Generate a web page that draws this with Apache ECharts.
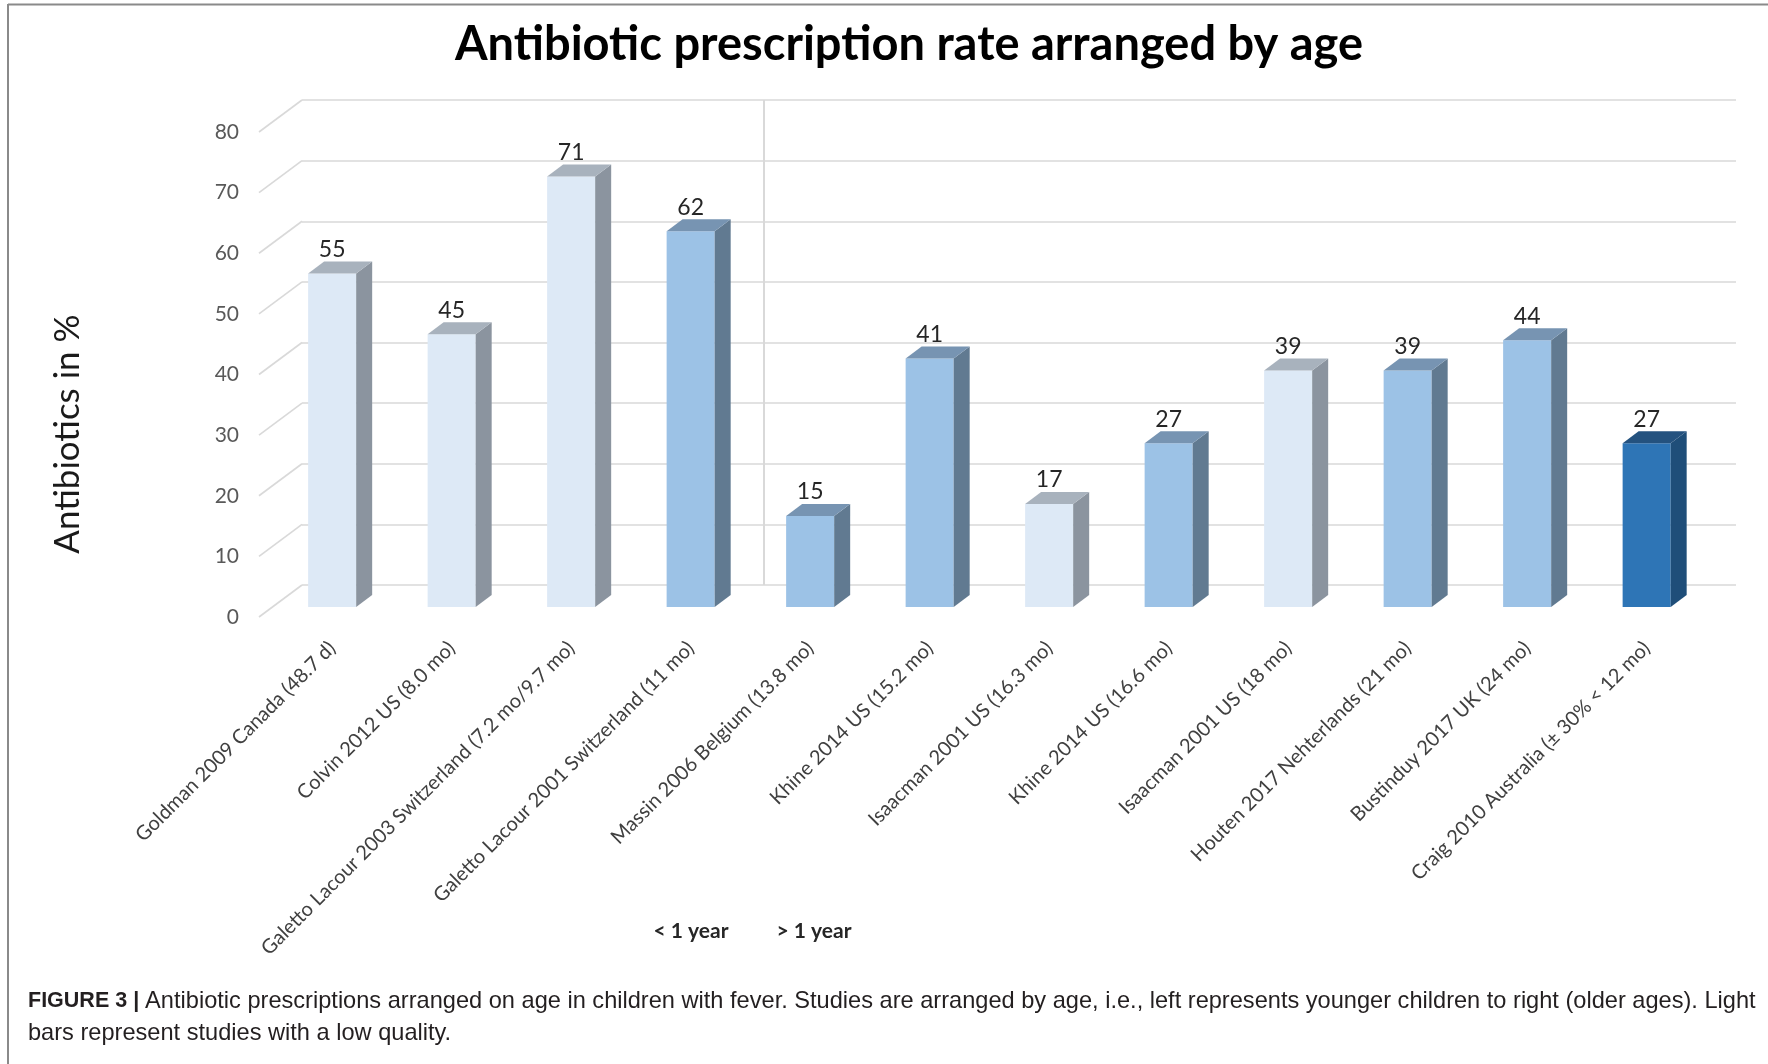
<!DOCTYPE html>
<html>
<head>
<meta charset="utf-8">
<script src="https://cdn.jsdelivr.net/npm/echarts@6/dist/echarts.min.js"></script>
<style>
html,body{margin:0;padding:0;background:#fff;}
#chart{width:1768px;height:1064px;}
</style>
</head>
<body>
<div id="chart"></div>
<script>
// ---- data ----
const categories = [
  'Goldman 2009 Canada (48.7 d)',
  'Colvin 2012 US (8.0 mo)',
  'Galetto Lacour 2003 Switzerland (7.2 mo/9.7 mo)',
  'Galetto Lacour 2001 Switzerland (11 mo)',
  'Massin 2006 Belgium (13.8 mo)',
  'Khine 2014 US (15.2 mo)',
  'Isaacman 2001 US (16.3 mo)',
  'Khine 2014 US (16.6 mo)',
  'Isaacman 2001 US (18 mo)',
  'Houten 2017 Nehterlands (21 mo)',
  'Bustinduy 2017 UK (24 mo)',
  'Craig 2010 Australia (\u00b1 30% < 12 mo)'
];
const values = [55, 45, 71, 62, 15, 41, 17, 27, 39, 39, 44, 27];
const shades = ['light','light','light','medium','medium','medium','light','medium','light','medium','medium','dark'];
const yTicks = [0, 10, 20, 30, 40, 50, 60, 70, 80];
const groupLabels = ['< 1 year', '> 1 year'];
const titleText = 'Antibiotic prescription rate arranged by age';
const yName = 'Antibiotics in %';
const captionBold = 'FIGURE 3 | ';
const captionLine1 = 'Antibiotic prescriptions arranged on age in children with fever. Studies are arranged by age, i.e., left represents younger children to right (older ages). Light';
const captionLine2 = 'bars represent studies with a low quality.';

// ---- styles ----
const palette = {
  light:  {front:'#DDE9F6', side:'#8B949F', top:'#A8B2BD'},
  medium: {front:'#9CC2E6', side:'#617A91', top:'#7794B2'},
  dark:   {front:'#2E75B6', side:'#1F4E79', top:'#24527F'}
};
const FONT = 'Lato, "Open Sans", sans-serif';
const CAP_FONT = '"Liberation Sans", Arial, sans-serif';
const GRID_W = 1434, GRID_H = 485;
const BAR_DX = 16, BAR_DY = -12;     // bar depth
const WALL_DX = 43, WALL_DY = -32;   // wall depth from label plane
const GRIDLINE = '#D9D9D9';

const chart = echarts.init(document.getElementById('chart'), null, {renderer:'canvas'});

const option = {
  backgroundColor: '#ffffff',
  animation: false,
  grid: [
    {left: 302, top: 100, width: GRID_W, height: GRID_H},   // back wall
    {left: 272.4, top: 122, width: GRID_W, height: GRID_H}, // bar plane
    {left: 259, top: 132, width: GRID_W, height: GRID_H}    // label plane
  ],
  xAxis: [
    {gridIndex: 0, type: 'value', min: -0.5, max: 11.5, show: false},
    {gridIndex: 1, type: 'category', data: categories,
      axisLine: {show: false}, axisTick: {show: false}, splitLine: {show: false},
      axisLabel: {interval: 0, rotate: 45, margin: 38, fontSize: 20, color: '#404040', fontFamily: FONT}},
    {gridIndex: 2, type: 'value', min: 0, max: 1, show: false}
  ],
  yAxis: [
    {gridIndex: 0, type: 'value', min: 0, max: 80, interval: 10,
      axisLine: {show: false}, axisTick: {show: false}, axisLabel: {show: false},
      splitLine: {show: true, lineStyle: {color: GRIDLINE, width: 1.6}}},
    {gridIndex: 1, type: 'value', min: 0, max: 80, interval: 10, show: false},
    {gridIndex: 2, type: 'value', min: 0, max: 80, interval: 10,
      axisLine: {show: false}, axisTick: {show: false}, splitLine: {show: false},
      axisLabel: {margin: 20, fontSize: 21, color: '#595959', fontFamily: FONT,
        formatter: function (v) { return yTicks.indexOf(v) >= 0 ? String(v) : ''; }}}
  ],
  series: [
    // divider between age groups on back wall
    {
      type: 'custom', xAxisIndex: 0, yAxisIndex: 0, silent: true,
      data: [[3.5]],
      renderItem: function (params, api) {
        const a = api.coord([api.value(0), 0]);
        const b = api.coord([api.value(0), 80]);
        return {type: 'line', shape: {x1: a[0] - 16, y1: a[1], x2: b[0] - 16, y2: b[1]},
          style: {stroke: GRIDLINE, lineWidth: 2}};
      }
    },
    // diagonal side lines
    {
      type: 'custom', xAxisIndex: 2, yAxisIndex: 2, silent: true,
      data: yTicks.map(function (t) { return [0, t]; }),
      renderItem: function (params, api) {
        const p = api.coord([0, api.value(1)]);
        return {type: 'line', shape: {x1: p[0], y1: p[1], x2: p[0] + WALL_DX, y2: p[1] + WALL_DY},
          style: {stroke: GRIDLINE, lineWidth: 1.6}};
      }
    },
    // 3D bars
    {
      type: 'custom', xAxisIndex: 1, yAxisIndex: 1, silent: true,
      data: values.map(function (v, i) { return [i, v]; }),
      renderItem: function (params, api) {
        const i = api.value(0), v = api.value(1);
        const base = api.coord([i, 0]);
        const top = api.coord([i, v]);
        const bw = api.size([1, 0])[0] * 0.402;
        const x0 = top[0] - bw / 2, x1 = top[0] + bw / 2;
        const c = palette[shades[params.dataIndex]];
        return {
          type: 'group',
          children: [
            {type: 'rect', shape: {x: x0, y: top[1], width: bw, height: base[1] - top[1]},
              style: {fill: c.front}},
            {type: 'polygon', shape: {points: [[x1, top[1]], [x1 + BAR_DX, top[1] + BAR_DY], [x1 + BAR_DX, base[1] + BAR_DY], [x1, base[1]]]},
              style: {fill: c.side}},
            {type: 'polygon', shape: {points: [[x0, top[1]], [x0 + BAR_DX, top[1] + BAR_DY], [x1 + BAR_DX, top[1] + BAR_DY], [x1, top[1]]]},
              style: {fill: c.top}},
            {type: 'text', x: top[0], y: top[1] - 24,
              style: {text: String(v), align: 'center', verticalAlign: 'middle',
                fontSize: 23, fontFamily: FONT, fill: '#262626'}}
          ]
        };
      }
    }
  ],
  graphic: [
    // frame
    {type: 'line', shape: {x1: 8, y1: 4.5, x2: 1768, y2: 4.5}, style: {stroke: '#8a8a8a', lineWidth: 2}},
    {type: 'line', shape: {x1: 8, y1: 4, x2: 8, y2: 1064}, style: {stroke: '#8a8a8a', lineWidth: 2}},
    // title
    {type: 'text', x: 909, y: 45, style: {text: titleText, align: 'center', verticalAlign: 'middle',
      fontSize: 47, fontWeight: 'bold', fontFamily: FONT, fill: '#000'}},
    // y axis name
    {type: 'text', x: 68, y: 434, rotation: Math.PI / 2, style: {text: yName, align: 'center', verticalAlign: 'middle',
      fontSize: 35, fontFamily: FONT, fill: '#1a1a1a'}},
    // group labels
    {type: 'text', x: 691, y: 931, style: {text: groupLabels[0], align: 'center', verticalAlign: 'middle',
      fontSize: 21, fontWeight: 'bold', fontFamily: FONT, fill: '#262626'}},
    {type: 'text', x: 814, y: 931, style: {text: groupLabels[1], align: 'center', verticalAlign: 'middle',
      fontSize: 21, fontWeight: 'bold', fontFamily: FONT, fill: '#262626'}},
    // caption
    {type: 'text', x: 28, y: 1001, style: {
      text: '{b|' + captionBold + '}{r|' + captionLine1 + '}',
      align: 'left', verticalAlign: 'middle',
      rich: {
        b: {fontSize: 21.5, fontWeight: 'bold', fontFamily: CAP_FONT, fill: '#231F20'},
        r: {fontSize: 23.6, fontFamily: CAP_FONT, fill: '#231F20'}
      }}},
    {type: 'text', x: 28, y: 1033, style: {text: captionLine2, align: 'left', verticalAlign: 'middle',
      fontSize: 23.6, fontFamily: CAP_FONT, fill: '#231F20'}}
  ]
};
chart.setOption(option);
</script>
</body>
</html>
